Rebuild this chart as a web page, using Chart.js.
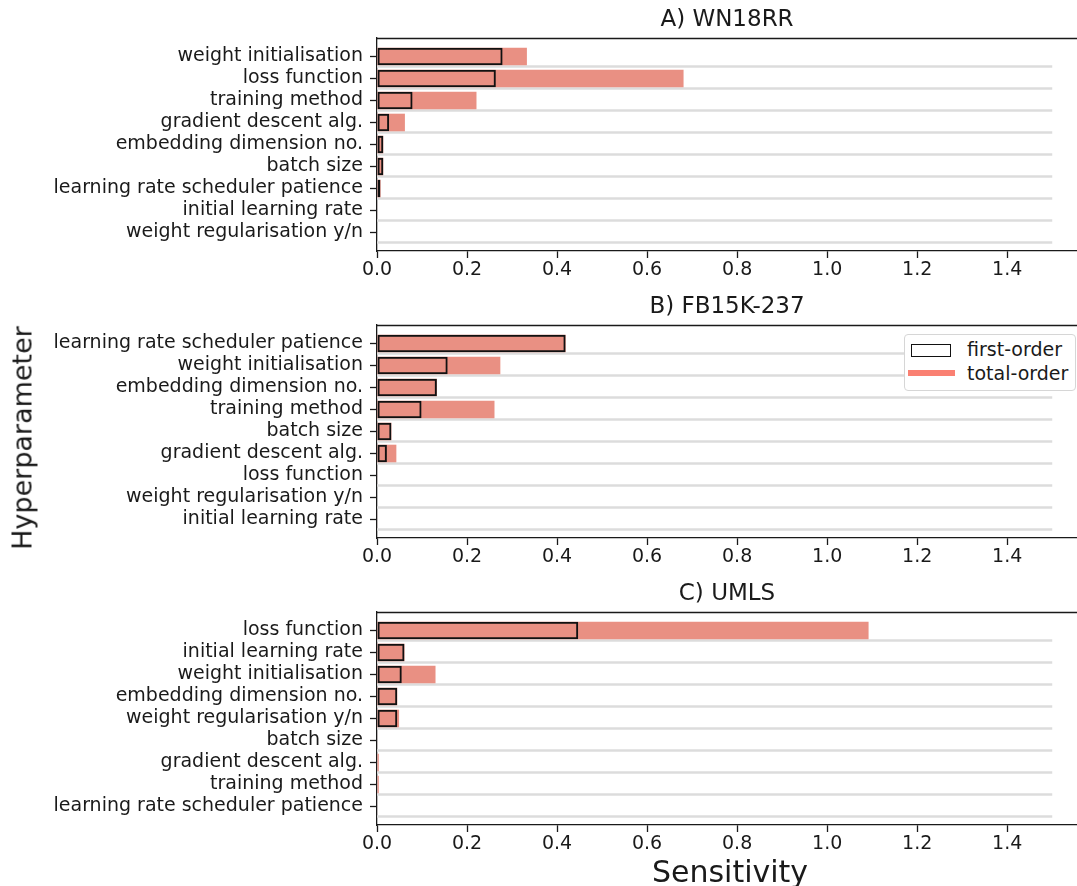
<!DOCTYPE html>
<html>
<head>
<meta charset="utf-8">
<script src="https://cdn.jsdelivr.net/npm/chart.js@4.4.1/dist/chart.umd.min.js"></script>
<style>
    body { margin: 0; background: #fff; width: 1077px; height: 886px; overflow: hidden; position: relative;
           font-family: "DejaVu Sans", sans-serif; color: #1a1a1a; }
    .panel { position: absolute; left: 0; width: 1077px; height: 286px; }
    #ylabel { position: absolute; left: 22px; top: 438px; font-size: 27px; white-space: nowrap;
              transform: translate(-50%, -50%) rotate(-90deg); }
    #xlabel { position: absolute; left: 730px; top: 871px; font-size: 30px; white-space: nowrap;
              transform: translate(-50%, -50%); }
    #legend { position: absolute; left: 904px; top: 334px; width: 170px; height: 55px; background: #fff;
              border: 1px solid #d6d6d6; border-radius: 4px; font-size: 19px; }
    #legend .row { position: absolute; left: 62px; line-height: 24px; white-space: nowrap; }
    #legend .box { position: absolute; left: 6px; top: 9px; width: 38px; height: 11px; border: 1.5px solid #111; }
    #legend .line { position: absolute; left: 3px; top: 35px; width: 47px; height: 6px; background: rgb(250,128,114); }
</style>
</head>
<body>
<div class="panel" style="top:0px"><canvas id="chartA" width="1077" height="286"></canvas></div>
<div class="panel" style="top:287px"><canvas id="chartB" width="1077" height="286"></canvas></div>
<div class="panel" style="top:574px"><canvas id="chartC" width="1077" height="286"></canvas></div>
<div id="ylabel">Hyperparameter</div>
<div id="xlabel">Sensitivity</div>
<div id="legend">
    <div class="box"></div><div class="row" style="top:2px">first-order</div>
    <div class="line"></div><div class="row" style="top:26px">total-order</div>
</div>
<script>
// tick labels of the sensitivity axis
var xTicks = [0, 0.2, 0.4, 0.6, 0.8, 1.0, 1.2, 1.4];

// A) WN18RR
var labelsA = ['weight initialisation', 'loss function', 'training method', 'gradient descent alg.',
    'embedding dimension no.', 'batch size', 'learning rate scheduler patience',
    'initial learning rate', 'weight regularisation y/n'];
var firstA = [0.279, 0.264, 0.079, 0.027, 0.014, 0.014, 0.0075, 0, 0];
var totalA = [0.333, 0.681, 0.221, 0.062, 0.014, 0.014, 0.008, 0.001, 0];

// B) FB15K-237
var labelsB = ['learning rate scheduler patience', 'weight initialisation', 'embedding dimension no.',
    'training method', 'batch size', 'gradient descent alg.', 'loss function',
    'weight regularisation y/n', 'initial learning rate'];
var firstB = [0.419, 0.157, 0.133, 0.099, 0.032, 0.022, 0, 0, 0];
var totalB = [0.419, 0.274, 0.133, 0.261, 0.032, 0.043, 0.001, 0, 0.001];

// C) UMLS
var labelsC = ['loss function', 'initial learning rate', 'weight initialisation', 'embedding dimension no.',
    'weight regularisation y/n', 'batch size', 'gradient descent alg.', 'training method',
    'learning rate scheduler patience'];
var firstC = [0.447, 0.061, 0.055, 0.045, 0.045, 0, 0, 0, 0];
var totalC = [1.092, 0.061, 0.130, 0.045, 0.049, 0.001, 0.004, 0.004, 0.001];

var barColor = 'rgb(233,144,131)';
var ink = '#1a1a1a';
var tickFont = { family: 'DejaVu Sans', size: 19 };

// light grey guide under each row, running from 0 to 1.5
var rowLines = {
    id: 'rowLines',
    beforeDatasetsDraw: function (chart) {
        var ctx = chart.ctx, xs = chart.scales.x, ys = chart.scales.y;
        var n = chart.data.datasets[0].data.length;
        ctx.save();
        ctx.strokeStyle = '#dcdcdc';
        ctx.lineWidth = 2.5;
        for (var i = 0; i < n; i++) {
            var y = ys.getPixelForValue(i + 0.45);
            ctx.beginPath();
            ctx.moveTo(xs.getPixelForValue(0), y);
            ctx.lineTo(xs.getPixelForValue(1.5), y);
            ctx.stroke();
        }
        ctx.restore();
    }
};

// top spine and panel title
var frameTitle = {
    id: 'frameTitle',
    afterDraw: function (chart, args, opts) {
        var ctx = chart.ctx, a = chart.chartArea;
        ctx.save();
        ctx.strokeStyle = ink;
        ctx.lineWidth = 1.3;
        ctx.beginPath();
        ctx.moveTo(a.left, a.top + 0.5);
        ctx.lineTo(a.right, a.top + 0.5);
        ctx.stroke();
        ctx.fillStyle = ink;
        ctx.font = '23px "DejaVu Sans"';
        ctx.textAlign = 'center';
        ctx.textBaseline = 'middle';
        ctx.fillText(opts.text, (a.left + a.right) / 2, a.top - 18);
        ctx.restore();
    }
};

function toPoints(values) {
    return values.map(function (v, i) { return { x: v, y: i }; });
}

function makeChart(id, title, labels, first, total) {
    return new Chart(document.getElementById(id), {
        type: 'bar',
        data: {
            datasets: [
                { label: 'first-order', data: toPoints(first), backgroundColor: 'rgba(0,0,0,0)',
                  borderColor: '#111', borderWidth: 2, borderSkipped: false },
                { label: 'total-order', data: toPoints(total), backgroundColor: barColor, borderWidth: 0 }
            ]
        },
        options: {
            indexAxis: 'y',
            responsive: false,
            animation: false,
            layout: { padding: { top: 38, left: 0, right: 0, bottom: 0 } },
            datasets: { bar: { grouped: false, barPercentage: 0.8, categoryPercentage: 1 } },
            plugins: { legend: { display: false }, tooltip: { enabled: false }, frameTitle: { text: title } },
            scales: {
                x: {
                    type: 'linear', min: 0, max: 1.555, offset: false,
                    afterBuildTicks: function (s) { s.ticks = xTicks.map(function (v) { return { value: v }; }); },
                    afterFit: function (s) { s.height = 35; },
                    ticks: { font: tickFont, color: ink, padding: 1, maxRotation: 0, autoSkip: false,
                             callback: function (v) { return v.toFixed(1); } },
                    grid: { offset: false, drawOnChartArea: false, drawTicks: true, tickLength: 7, color: ink, tickWidth: 1.3 },
                    border: { color: ink, width: 1.3 }
                },
                y: {
                    type: 'linear', reverse: true, min: -0.84, max: 8.84, offset: false,
                    afterBuildTicks: function (s) { s.ticks = labels.map(function (l, i) { return { value: i }; }); },
                    afterFit: function (s) { s.width = 377; },
                    ticks: { font: tickFont, color: ink, padding: 7, autoSkip: false,
                             callback: function (v) { return labels[v]; } },
                    grid: { offset: false, drawOnChartArea: false, drawTicks: true, tickLength: 7, color: ink, tickWidth: 1.3 },
                    border: { color: ink, width: 1.3 }
                }
            }
        },
        plugins: [rowLines, frameTitle]
    });
}

makeChart('chartA', 'A) WN18RR', labelsA, firstA, totalA);
makeChart('chartB', 'B) FB15K-237', labelsB, firstB, totalB);
makeChart('chartC', 'C) UMLS', labelsC, firstC, totalC);
</script>
</body>
</html>
